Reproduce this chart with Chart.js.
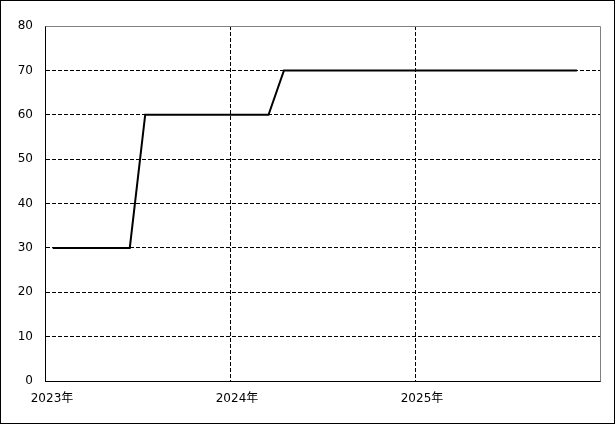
<!DOCTYPE html>
<html>
<head>
<meta charset="utf-8">
<script src="https://cdn.jsdelivr.net/npm/chart.js@4"></script>
<style>
  body { margin: 0; background: #fff; }
  #wrap { width: 615px; height: 424px; box-sizing: border-box; border: 1px solid #000; }
</style>
</head>
<body>
<div id="wrap"><canvas id="chart" width="613" height="422"></canvas></div>
<script>
// monthly values, Jan 2023 .. Nov 2025
var months = ['2023-01','2023-02','2023-03','2023-04','2023-05','2023-06','2023-07','2023-08','2023-09','2023-10','2023-11','2023-12',
              '2024-01','2024-02','2024-03','2024-04','2024-05','2024-06','2024-07','2024-08','2024-09','2024-10','2024-11','2024-12',
              '2025-01','2025-02','2025-03','2025-04','2025-05','2025-06','2025-07','2025-08','2025-09','2025-10','2025-11']
var values = [30,30,30,30,30,30,60,60,60,60,60,60,
              60,60,60,70,70,70,70,70,70,70,70,70,
              70,70,70,70,70,70,70,70,70,70,70]
var startYear = 2023
var yTicks = [0,10,20,30,40,50,60,70,80]

var font = { family: '"DejaVu Sans", "Noto Sans CJK JP", sans-serif', size: 12 }

// gray top/right frame of the plot area
var frame = {
    id: 'frame',
    beforeDatasetsDraw: function (chart) {
        let a = chart.chartArea
        let ctx = chart.ctx
        ctx.save()
        ctx.strokeStyle = '#808080'
        ctx.lineWidth = 1
        ctx.beginPath()
        ctx.moveTo(Math.round(a.left) + 0.5, Math.round(a.top) + 0.5)
        ctx.lineTo(Math.round(a.right) + 0.5, Math.round(a.top) + 0.5)
        ctx.lineTo(Math.round(a.right) + 0.5, Math.round(a.bottom) + 0.5)
        ctx.stroke()
        ctx.restore()
    }
}

new Chart(document.getElementById('chart'), {
    type: 'line',
    data: {
        datasets: [{
            data: values.map((v, i) => ({ x: i + 0.5, y: v })),
            borderColor: '#000',
            borderWidth: 2,
            pointRadius: 0,
            tension: 0
        }]
    },
    options: {
        responsive: false,
        animation: false,
        layout: { padding: { left: 0, right: 14, top: 25, bottom: 0 } },
        plugins: { legend: { display: false }, tooltip: { enabled: false } },
        scales: {
            x: {
                type: 'linear',
                min: 0,
                max: 36,
                afterFit: (s) => { s.height = 42 },
                afterBuildTicks: (s) => { s.ticks = [0, 12, 24, 36].map(v => ({ value: v })) },
                ticks: {
                    color: '#000',
                    font: font,
                    padding: 11,
                    labelOffset: 7,
                    maxRotation: 0,
                    callback: (v) => v < 36 ? (startYear + v / 12) + '年' : ''
                },
                grid: {
                    drawTicks: false,
                    color: (c) => (c.tick && (c.tick.value === 0 || c.tick.value === 36)) ? 'rgba(0,0,0,0)' : '#000',
                    lineWidth: 1
                },
                border: { color: '#000', width: 1, dash: [4, 2] }
            },
            y: {
                min: 0,
                max: 80,
                afterFit: (s) => { s.width = 44 },
                afterBuildTicks: (s) => { s.ticks = yTicks.map(v => ({ value: v })) },
                ticks: { color: '#000', font: font, padding: 12 },
                grid: {
                    drawTicks: false,
                    color: (c) => (c.tick && (c.tick.value === 0 || c.tick.value === 80)) ? 'rgba(0,0,0,0)' : '#000',
                    lineWidth: 1
                },
                border: { color: '#000', width: 1, dash: [4, 2] }
            }
        }
    },
    plugins: [frame]
})
</script>
</body>
</html>
